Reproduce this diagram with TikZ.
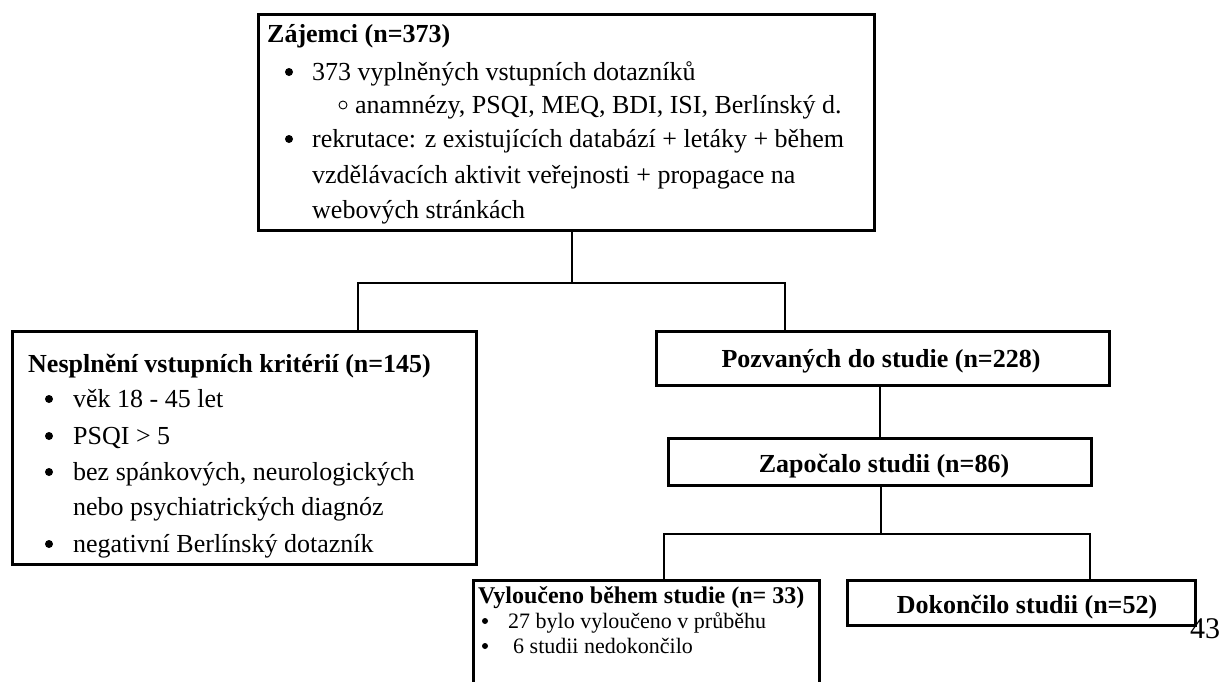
\documentclass[tikz,border=0pt]{standalone}
\usepackage{fontspec}
\setmainfont{Liberation Serif}
\tikzset{
  box/.style={draw, line width=2.6pt, rectangle, inner sep=0pt, anchor=north west},
  conn/.style={line width=2.6pt, line cap=rect},
  txt/.style={anchor=base west, inner sep=0pt, font=\fontsize{26}{30}\selectfont},
  ttl/.style={anchor=base west, inner sep=0pt, font=\bfseries\fontsize{26}{30}\selectfont},
  ctr/.style={anchor=base, inner sep=0pt, font=\bfseries\fontsize{26}{30}\selectfont},
  stxt/.style={anchor=base west, inner sep=0pt, font=\fontsize{22}{26}\selectfont},
  sttl/.style={anchor=base west, inner sep=0pt, font=\bfseries\fontsize{24}{26}\selectfont},
  dot/.style={fill, circle, inner sep=0pt, minimum size=8pt},
  sdot/.style={fill, circle, inner sep=0pt, minimum size=6pt},
  subcirc/.style={draw, circle, line width=0.9pt, inner sep=0pt, minimum size=8pt}
}
\begin{document}
\begin{tikzpicture}[x=1pt, y=-1pt]
\useasboundingbox (0,0) rectangle (1227,681);
\fill[white] (0,0) rectangle (1227,681);
\clip (0,0) rectangle (1227,681);

% boxes
\node[box, minimum width=616pt, minimum height=216pt] (top) at (257,13) {};
\node[box, minimum width=464pt, minimum height=233pt] (lft) at (11,330) {};
\node[box, minimum width=453pt, minimum height=54pt] (poz) at (655,330) {};
\node[box, minimum width=423pt, minimum height=47pt] (zap) at (667,437) {};
\node[box, minimum width=346pt, minimum height=150pt] (vyl) at (472,579) {};
\node[box, minimum width=348pt, minimum height=45pt] (dok) at (846,579) {};

% top box text
\node[ttl] (t0) at (267,42) {Zájemci (n=373)};
\node[dot] (tb1) at (289,72) {};
\node[txt] (t1) at (312,80) {373 vyplněných vstupních dotazníků};
\node[subcirc] (tc2) at (343,105) {};
\node[txt] (t2) at (355,113) {anamnézy, PSQI, MEQ, BDI, ISI, Berlínský d.};
\node[dot] (tb3) at (289,139) {};
\node[txt] (t3) at (312,147) {rekrutace: z existujících databází + letáky + během};
\node[txt] (t4) at (312,183) {vzdělávacích aktivit veřejnosti + propagace na};
\node[txt] (t5) at (312,218) {webových stránkách};

% left box text
\node[ttl] (l0) at (28,372) {Nesplnění vstupních kritérií (n=145)};
\node[dot] (lb1) at (49,399) {};
\node[txt] (l1) at (73,407) {věk 18 - 45 let};
\node[dot] (lb2) at (49,436) {};
\node[txt] (l2) at (73,444) {PSQI > 5};
\node[dot] (lb3) at (49,472) {};
\node[txt] (l3) at (73,480) {bez spánkových, neurologických};
\node[txt] (l4) at (73,515) {nebo psychiatrických diagnóz};
\node[dot] (lb5) at (49,544) {};
\node[txt] (l5) at (73,552) {negativní Berlínský dotazník};

% centred labels
\node[ctr] (pozt) at (881,367) {Pozvaných do studie (n=228)};
\node[ctr] (zapt) at (884,472) {Započalo studii (n=86)};
\node[ctr] (dokt) at (1027,613) {Dokončilo studii (n=52)};

% excluded box text
\node[sttl] (v0) at (478,603) {Vyloučeno během studie (n= 33)};
\node[sdot] (vb1) at (485,621) {};
\node[stxt] (v1) at (508,628) {27 bylo vyloučeno v průběhu};
\node[sdot] (vb2) at (485,646) {};
\node[stxt] (v2) at (513,653) {6 studii nedokončilo};

% page number
\node[anchor=base west, inner sep=0pt, font=\fontsize{30}{32}\selectfont] (pg) at (1190,638) {43};

% connectors
\coordinate (j1) at (572,283);
\coordinate (jl) at (358,283);
\coordinate (jr) at (785,283);
\draw[conn] (top.south -| j1) -- (j1);
\draw[conn] (jl |- lft.north) -- (jl) -- (jr) -- (jr |- poz.north);
\coordinate (jp) at (880,400);
\draw[conn] (poz.south -| jp) -- (zap.north -| jp);
\coordinate (j2) at (881,534);
\coordinate (jl2) at (664,534);
\coordinate (jr2) at (1090,534);
\draw[conn] (zap.south -| j2) -- (j2);
\draw[conn] (jl2 |- vyl.north) -- (jl2) -- (jr2) -- (jr2 |- dok.north);
\end{tikzpicture}
\end{document}
